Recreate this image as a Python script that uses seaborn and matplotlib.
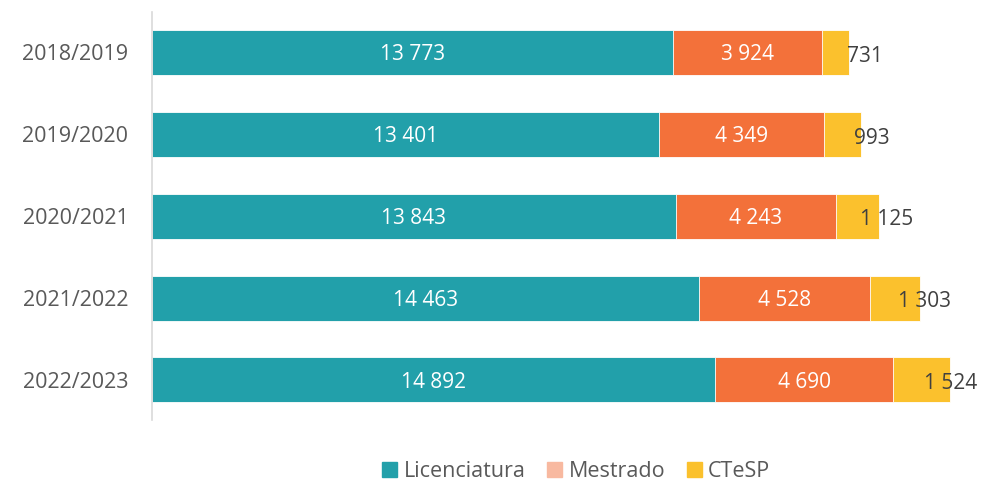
import matplotlib
matplotlib.use("Agg")
import matplotlib.pyplot as plt
import seaborn as sns
import pandas as pd
from matplotlib.patches import Patch

# dados
anos = ['2018/2019', '2019/2020', '2020/2021', '2021/2022', '2022/2023']
licenciatura = [13773, 13401, 13843, 14463, 14892]
mestrado = [3924, 4349, 4243, 4528, 4690]
ctesp = [731, 993, 1125, 1303, 1524]

cor_lic = '#22A0AA'
cor_mes = '#F3713A'
cor_mes_leg = '#F8B9A0'
cor_ctesp = '#FBC12D'

sns.set_theme(style='white')
plt.rcParams['font.family'] = ['Open Sans', 'DejaVu Sans']

df = pd.DataFrame({'ano': anos, 'lic': licenciatura, 'mes': mestrado, 'ctesp': ctesp})
df['lic_mes'] = df['lic'] + df['mes']
df['total'] = df['lic_mes'] + df['ctesp']

fig = plt.figure(figsize=(9.85, 4.84), dpi=100)
ax = fig.add_axes([0.1543, 0.132, 0.845, 0.843])

# barras empilhadas (desenhadas de tras para a frente)
for col, cor in [('total', cor_ctesp), ('lic_mes', cor_mes), ('lic', cor_lic)]:
    sns.barplot(data=df, y='ano', x=col, color=cor, width=0.55, ax=ax, saturation=1,
                edgecolor='white', linewidth=0.6, orient='h')

def fmt(v):
    return f'{v:,}'.replace(',', ' ')

for i, row in df.iterrows():
    ax.text(row['lic'] / 2, i, fmt(row['lic']), ha='center', va='center_baseline',
            color='white', fontsize=15)
    ax.text(row['lic'] + row['mes'] / 2, i, fmt(row['mes']), ha='center',
            va='center_baseline', color='white', fontsize=15)
    ax.annotate(fmt(row['ctesp']), xy=(row['lic_mes'] + row['ctesp'] / 2, i),
                xytext=(21, -1), textcoords='offset points', ha='center',
                va='center_baseline', color='#404040', fontsize=15)

ax.set_xlim(0, 22000)
ax.set_ylim(4.49, -0.49)
ax.set_xlabel('')
ax.set_ylabel('')
ax.set_xticks([])
ax.tick_params(axis='y', length=0, pad=17, labelsize=15.5, labelcolor='#595959')
for s in ['top', 'right', 'bottom']:
    ax.spines[s].set_visible(False)
ax.spines['left'].set_color('#D9D9D9')
ax.spines['left'].set_linewidth(1.2)

handles = [Patch(color=cor_lic, label='Licenciatura'),
           Patch(color=cor_mes_leg, label='Mestrado'),
           Patch(color=cor_ctesp, label='CTeSP')]
leg = fig.legend(handles=handles, loc='center', bbox_to_anchor=(0.585, 0.025), ncol=3,
                 frameon=False, fontsize=15.5, handlelength=0.7, handleheight=0.7,
                 handletextpad=0.3, columnspacing=1.0, labelcolor='#595959')

fig.savefig('out.png', dpi=100, facecolor='white')
